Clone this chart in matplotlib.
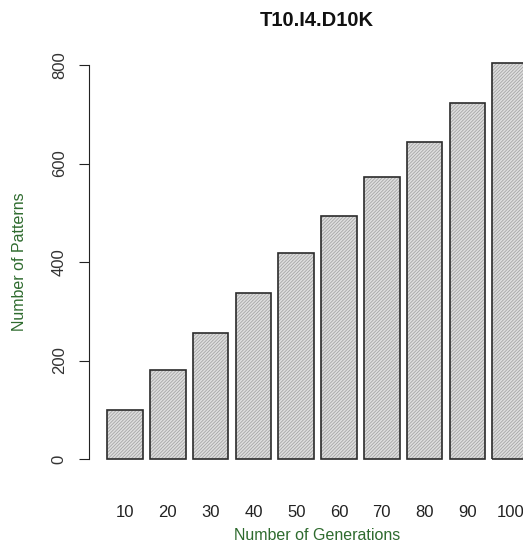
import matplotlib
matplotlib.use("Agg")
import matplotlib.pyplot as plt

plt.rcParams['font.family'] = ['Liberation Sans', 'DejaVu Sans']
plt.rcParams['hatch.linewidth'] = 0.6

# data
generations = ['10', '20', '30', '40', '50', '60', '70', '80', '90', '100']
patterns = [100, 180, 256, 337, 418, 493, 573, 644, 723, 805]

fig = plt.figure(figsize=(5.23, 5.45), dpi=100)
# axes placed so bars line up with the R barplot layout
ax = fig.add_axes([89 / 523, (545 - 468.9) / 545, (523 - 89) / 523, 413.7 / 545])

# R barplot positions: width 1, space 0.2
lefts = [0.2 + 1.2 * i for i in range(len(patterns))]
centers = [l + 0.5 for l in lefts]
# hatch follows edgecolor, so draw the shading and the outline separately
ax.bar(centers, patterns, width=1.0, facecolor='#dedede', edgecolor='#a6a6a6',
       linewidth=0, hatch='//////////', clip_on=False)
ax.bar(centers, patterns, width=1.0, fill=False, edgecolor='#2b2b2b',
       linewidth=1.2, clip_on=False)

ax.set_xlim(-0.31, 11.86)
ax.set_ylim(-20, 820)

for s in ['top', 'right', 'bottom']:
    ax.spines[s].set_visible(False)
ax.spines['left'].set_bounds(0, 800)
ax.spines['left'].set_color('#222222')

ax.set_yticks([0, 200, 400, 600, 800])
ax.set_yticklabels(['0', '200', '400', '600', '800'], rotation=90, va='center',
                   fontsize=12, color='#333333')
ax.tick_params(axis='y', length=7, pad=9, color='#222222')

ax.set_xticks(centers)
ax.set_xticklabels(generations, fontsize=12, color='#222222')
ax.tick_params(axis='x', length=0, pad=26)

fig.text(317 / 523, 1 - 20 / 545, 'T10.I4.D10K', ha='center', va='center',
         fontsize=14.5, fontweight='bold', color='#111111')
fig.text(317 / 523, 1 - 535 / 545, 'Number of Generations', ha='center',
         va='center', fontsize=11.5, color='#2e6b2e')
fig.text(20 / 523, 1 - 262 / 545, 'Number of Patterns', ha='center',
         va='center', rotation=90, fontsize=11.5, color='#2e6b2e')

fig.savefig('out.png', dpi=100)
